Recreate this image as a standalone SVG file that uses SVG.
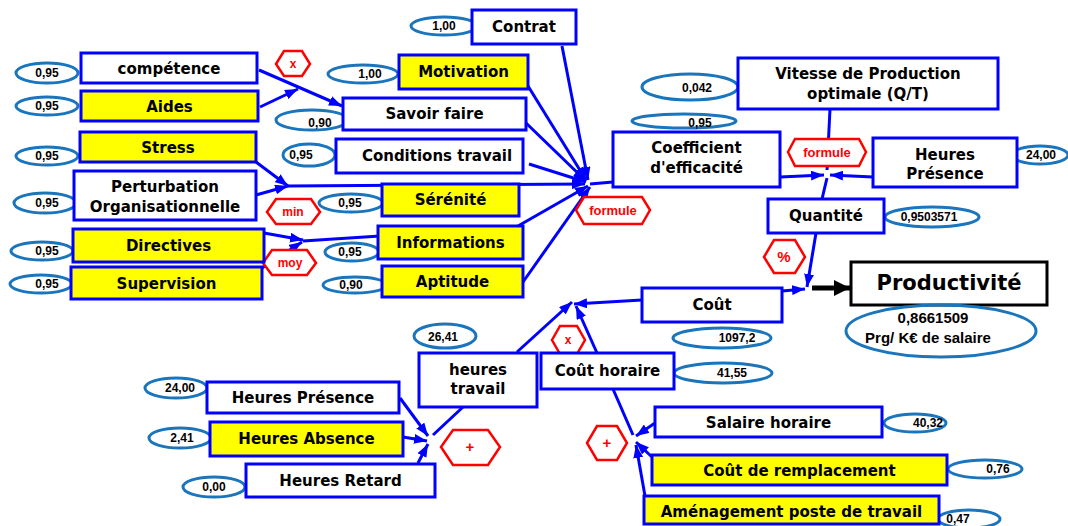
<svg xmlns="http://www.w3.org/2000/svg" width="1068" height="526" viewBox="0 0 1068 526">
<style>
.b{fill:#fff;stroke:#0000ff;stroke-width:3}
.y{fill:#ffff00;stroke:#0000ff;stroke-width:3}
.k{fill:#fff;stroke:#000;stroke-width:3}
.e{fill:none;stroke:#1a75bc;stroke-width:3}
.hx{fill:#fff;stroke:#ff0000;stroke-width:2.5}
.t{font-family:"DejaVu Sans",Verdana,sans-serif;font-weight:bold;font-size:15px;text-anchor:middle;fill:#000}
.n{font-family:"Liberation Sans",Arial,sans-serif;font-weight:bold;font-size:12px;text-anchor:middle;fill:#000}
.r{font-family:"Liberation Sans",Arial,sans-serif;font-weight:bold;font-size:12px;text-anchor:middle;fill:#ff0000}
.c{stroke:#0000ff;stroke-width:3;fill:none}
.a{marker-end:url(#ah)}
</style>
<defs>
<marker id="ah" markerUnits="userSpaceOnUse" markerWidth="13" markerHeight="10" refX="13" refY="5" orient="auto">
<path d="M0,0 L13,5 L0,10 z" fill="#0000ff"/>
</marker>
<marker id="bk" markerUnits="userSpaceOnUse" markerWidth="16" markerHeight="16" refX="16" refY="8" orient="auto">
<path d="M0,0 L16,8 L0,16 z" fill="#000"/>
</marker>
</defs>
<g id="connectors">
<line class="c a" x1="259" y1="70" x2="342" y2="106"/>
<line class="c a" x1="260" y1="107" x2="298" y2="89"/>
<line class="c a" x1="256" y1="162" x2="288" y2="186"/>
<line class="c a" x1="256" y1="195" x2="288" y2="186"/>
<line class="c a" x1="288" y1="186" x2="585" y2="184"/>
<line class="c a" x1="264" y1="233" x2="303" y2="240"/>
<line class="c a" x1="262" y1="268" x2="302" y2="242"/>
<line class="c" x1="303" y1="241" x2="380" y2="236"/>
<line class="c a" x1="562" y1="46" x2="588" y2="180"/>
<line class="c a" x1="528" y1="86" x2="586" y2="180"/>
<line class="c a" x1="526" y1="123" x2="586" y2="181"/>
<line class="c a" x1="529" y1="164" x2="586" y2="182"/>
<line class="c a" x1="518" y1="226" x2="588" y2="186"/>
<line class="c a" x1="523" y1="282" x2="590" y2="187"/>
<line class="c" x1="590" y1="184" x2="613" y2="182"/>
<line class="c a" x1="780" y1="177" x2="824" y2="175"/>
<line class="c a" x1="873" y1="177" x2="830" y2="175"/>
<line class="c a" x1="830" y1="109" x2="827" y2="170"/>
<line class="c" x1="822" y1="199" x2="827" y2="178"/>
<line class="c a" x1="816" y1="233" x2="807" y2="287"/>
<line class="c a" x1="782" y1="291" x2="805" y2="289"/>
<line x1="812" y1="288" x2="850" y2="288" stroke="#000" stroke-width="5" marker-end="url(#bk)"/>
<line class="c a" x1="642" y1="300" x2="574" y2="304"/>
<line class="c a" x1="597" y1="353" x2="576" y2="306"/>
<line class="c a" x1="517" y1="352" x2="572" y2="302"/>
<line class="c a" x1="400" y1="398" x2="428" y2="436"/>
<line class="c a" x1="403" y1="437" x2="427" y2="441"/>
<line class="c a" x1="418" y1="463" x2="428" y2="444"/>
<line class="c" x1="433" y1="435" x2="463" y2="407"/>
<line class="c" x1="613" y1="389" x2="633" y2="435"/>
<line class="c a" x1="655" y1="423" x2="636" y2="436"/>
<line class="c a" x1="652" y1="457" x2="636" y2="442"/>
<line class="c a" x1="645" y1="496" x2="636" y2="445"/>
</g>
<g id="operators">
<g id="op-x1"><polygon class="hx" points="276,64 284,51 302,51 310,64 302,76 284,76"/><text class="r" x="293" y="68">x</text></g>
<g id="op-min"><polygon class="hx" points="267,212 276,199 311,199 320,212 311,224 276,224"/><text class="r" x="293" y="216">min</text></g>
<g id="op-moy"><polygon class="hx" points="263,263 272,250 307,250 316,263 307,275 272,275"/><text class="r" x="290" y="267">moy</text></g>
<g id="op-formule1"><polygon class="hx" points="576,210 584,197 642,197 650,210 642,224 584,224"/><text class="r" x="613" y="215" style="font-size:13px">formule</text></g>
<g id="op-formule2"><polygon class="hx" points="788,152 795,139 859,139 866,152 859,166 795,166"/><text class="r" x="827" y="157" style="font-size:13px">formule</text></g>
<g id="op-pct"><polygon class="hx" points="764,257 774,240 795,240 805,257 795,273 774,273"/><text class="r" x="784" y="262" style="font-size:15px">%</text></g>
<g id="op-x2"><polygon class="hx" points="552,340 560,326 577,326 585,340 577,354 560,354"/><text class="r" x="568" y="344">x</text></g>
<g id="op-plus1"><polygon class="hx" points="441,447 453,430 488,430 500,447 488,465 453,465"/><text class="r" x="470" y="452" style="font-size:15px">+</text></g>
<g id="op-plus2"><polygon class="hx" points="587,443 597,426 617,426 627,443 617,460 597,460"/><text class="r" x="607" y="448" style="font-size:15px">+</text></g>
</g>
<g id="values">
<g><ellipse class="e" cx="47" cy="73" rx="31" ry="10"/><text class="n" x="47" y="77">0,95</text></g>
<g><ellipse class="e" cx="47" cy="106" rx="31" ry="9"/><text class="n" x="47" y="110">0,95</text></g>
<g><ellipse class="e" cx="47" cy="156" rx="31" ry="9"/><text class="n" x="47" y="160">0,95</text></g>
<g><ellipse class="e" cx="45" cy="203" rx="31" ry="10"/><text class="n" x="47" y="207">0,95</text></g>
<g><ellipse class="e" cx="42" cy="251" rx="31" ry="9"/><text class="n" x="47" y="255">0,95</text></g>
<g><ellipse class="e" cx="41" cy="284" rx="31" ry="9"/><text class="n" x="47" y="288">0,95</text></g>
<g><ellipse class="e" cx="444" cy="26" rx="33" ry="9"/><text class="n" x="444" y="30">1,00</text></g>
<g><ellipse class="e" cx="363" cy="74" rx="35" ry="9"/><text class="n" x="370" y="78">1,00</text></g>
<g><ellipse class="e" cx="312" cy="120" rx="36" ry="10"/><text class="n" x="320" y="127">0,90</text></g>
<g><ellipse class="e" cx="309" cy="155" rx="26" ry="11"/><text class="n" x="301" y="159">0,95</text></g>
<g><ellipse class="e" cx="351" cy="203" rx="32" ry="9"/><text class="n" x="350" y="207">0,95</text></g>
<g><ellipse class="e" cx="352" cy="252" rx="27" ry="9"/><text class="n" x="350" y="256">0,95</text></g>
<g><ellipse class="e" cx="355" cy="285" rx="32" ry="8"/><text class="n" x="351" y="289">0,90</text></g>
<g><ellipse class="e" cx="690" cy="87" rx="48" ry="13"/><text class="n" x="697" y="92">0,042</text></g>
<g><ellipse class="e" cx="684" cy="121" rx="52" ry="7"/><text class="n" x="700" y="127">0,95</text></g>
<g><ellipse class="e" cx="1040" cy="155" rx="28" ry="9"/><text class="n" x="1041" y="159">24,00</text></g>
<g><ellipse class="e" cx="932" cy="217" rx="47" ry="10"/><text class="n" x="929" y="221">0,9503571</text></g>
<g><ellipse class="e" cx="722" cy="338" rx="49" ry="10"/><text class="n" x="737" y="342">1097,2</text></g>
<g><ellipse class="e" cx="723" cy="373" rx="49" ry="10"/><text class="n" x="732" y="377">41,55</text></g>
<g><ellipse class="e" cx="445" cy="336" rx="31" ry="12"/><text class="n" x="443" y="341">26,41</text></g>
<g><ellipse class="e" cx="176" cy="388" rx="31" ry="10"/><text class="n" x="180" y="392">24,00</text></g>
<g><ellipse class="e" cx="180" cy="438" rx="31" ry="10"/><text class="n" x="182" y="442">2,41</text></g>
<g><ellipse class="e" cx="214" cy="487" rx="31" ry="10"/><text class="n" x="214" y="491">0,00</text></g>
<g><ellipse class="e" cx="915" cy="423" rx="31" ry="9"/><text class="n" x="928" y="427">40,32</text></g>
<g><ellipse class="e" cx="985" cy="469" rx="37" ry="9"/><text class="n" x="998" y="473">0,76</text></g>
<g><ellipse class="e" cx="969" cy="519" rx="31" ry="9"/><text class="n" x="958" y="523">0,47</text></g>
</g>
<g id="competence"><rect class="b" x="81" y="53" width="176" height="30"/><text class="t" x="169" y="74">compétence</text></g>
<g id="aides"><rect class="y" x="81" y="91" width="177" height="30"/><text class="t" x="169.5" y="112">Aides</text></g>
<g id="stress"><rect class="y" x="80" y="132" width="176" height="30"/><text class="t" x="168" y="153">Stress</text></g>
<g id="perturbation"><rect class="b" x="74" y="171" width="182" height="49"/><text class="t" x="165" y="192">Perturbation</text><text class="t" x="165" y="212">Organisationnelle</text></g>
<g id="directives"><rect class="y" x="73" y="229" width="191" height="33"/><text class="t" x="168.5" y="251">Directives</text></g>
<g id="supervision"><rect class="y" x="71" y="267" width="191" height="32"/><text class="t" x="166.5" y="289">Supervision</text></g>
<g id="contrat"><rect class="b" x="472" y="10" width="104" height="34"/><text class="t" x="524" y="32">Contrat</text></g>
<g id="motivation"><rect class="y" x="399" y="55" width="129" height="34"/><text class="t" x="463.5" y="77">Motivation</text></g>
<g id="savoir-faire"><rect class="b" x="343" y="98" width="183" height="32"/><text class="t" x="434.5" y="119">Savoir faire</text></g>
<g id="conditions"><rect class="b" x="336" y="139" width="187" height="34"/><text class="t" x="437" y="161">Conditions travail</text></g>
<g id="serenite"><rect class="y" x="382" y="184" width="137" height="32"/><text class="t" x="450.5" y="205">Sérénité</text></g>
<g id="informations"><rect class="y" x="378" y="226" width="145" height="33"/><text class="t" x="450.5" y="248">Informations</text></g>
<g id="aptitude"><rect class="y" x="382" y="266" width="141" height="31"/><text class="t" x="452.5" y="287">Aptitude</text></g>
<g id="coefficient"><rect class="b" x="613" y="132" width="167" height="55"/><text class="t" x="696.5" y="153">Coefficient</text><text class="t" x="696.5" y="173">d'efficacité</text></g>
<g id="vitesse"><rect class="b" x="738" y="58" width="260" height="51"/><text class="t" x="868" y="79">Vitesse de Production</text><text class="t" x="868" y="99">optimale (Q/T)</text></g>
<g id="heures-presence-r"><rect class="b" x="873" y="138" width="144" height="49"/><text class="t" x="945" y="160">Heures</text><text class="t" x="945" y="179">Présence</text></g>
<g id="quantite"><rect class="b" x="768" y="199" width="116" height="34"/><text class="t" x="826" y="221">Quantité</text></g>
<g id="productivite"><rect class="k" x="851" y="262" width="196" height="43"/><text class="t" x="949" y="290" style="font-size:21px">Productivité</text></g>
<g id="productivite-val"><ellipse class="e" cx="941" cy="331" rx="95" ry="26"/><text class="n" x="933" y="323" style="font-size:15px">0,8661509</text><text class="n" x="928" y="343" style="font-size:15px">Prg/ K€ de salaire</text></g>
<g id="cout"><rect class="b" x="642" y="288" width="140" height="34"/><text class="t" x="712" y="310">Coût</text></g>
<g id="heures-travail"><rect class="b" x="419" y="353" width="118" height="54"/><text class="t" x="478" y="375">heures</text><text class="t" x="478" y="394">travail</text></g>
<g id="cout-horaire"><rect class="b" x="541" y="353" width="133" height="36"/><text class="t" x="607.5" y="376">Coût horaire</text></g>
<g id="heures-presence-b"><rect class="b" x="207" y="382" width="192" height="31"/><text class="t" x="303" y="403">Heures Présence</text></g>
<g id="heures-absence"><rect class="y" x="210" y="422" width="193" height="34"/><text class="t" x="306.5" y="444">Heures Absence</text></g>
<g id="heures-retard"><rect class="b" x="246" y="464" width="189" height="33"/><text class="t" x="340.5" y="486">Heures Retard</text></g>
<g id="salaire-horaire"><rect class="b" x="655" y="407" width="227" height="30"/><text class="t" x="768.5" y="428">Salaire horaire</text></g>
<g id="cout-remplacement"><rect class="y" x="652" y="455" width="295" height="30"/><text class="t" x="799.5" y="476">Coût de remplacement</text></g>
<g id="amenagement"><rect class="y" x="644" y="496" width="295" height="28"/><text class="t" x="791.5" y="517">Aménagement poste de travail</text></g>
</svg>
